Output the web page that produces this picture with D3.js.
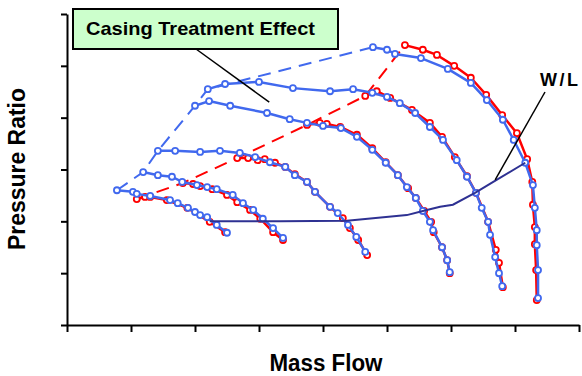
<!DOCTYPE html>
<html>
<head>
<meta charset="utf-8">
<script src="https://cdn.jsdelivr.net/npm/d3@7"></script>
<style>
  body { margin: 0; background: #fff; }
  svg { display: block; font-family: "Liberation Sans", Arial, sans-serif; }
</style>
</head>
<body>
<div id="chart"></div>
<script>
// Speed lines, [mass flow, pressure ratio] in axis units (x 0-8, y 0-6)
// baseline (red) and casing treatment (blue)
const redLines = [
  [[1.09,2.43],[1.22,2.47],[1.30,2.47],[1.56,2.41],[1.88,2.26],[2.23,1.99],[2.47,1.79]],
  [[1.81,2.74],[1.97,2.72],[2.08,2.68],[2.27,2.62],[2.50,2.51],[2.66,2.37],[2.86,2.22],[3.02,2.05],[3.22,1.79],[3.375,1.64]],
  [[2.66,3.22],[2.83,3.22],[2.98,3.18],[3.09,3.20],[3.25,3.13],[3.41,3.05],[3.56,2.91],[3.75,2.76],[3.875,2.57],[4.11,2.28],[4.31,2.06],[4.42,1.87],[4.55,1.64],[4.69,1.35]],
  [[3.75,3.86],[3.95,3.90],[4.06,3.88],[4.27,3.82],[4.53,3.67],[4.77,3.41],[4.98,3.14],[5.17,2.89],[5.33,2.64],[5.45,2.45],[5.58,2.20],[5.69,1.99],[5.73,1.79],[5.86,1.50],[5.94,1.25],[5.98,1.00]],
  [[4.66,4.42],[4.84,4.51],[5.05,4.38],[5.39,4.15],[5.67,3.90],[5.86,3.63],[6.06,3.24],[6.25,2.87],[6.39,2.55],[6.58,1.99],[6.70,1.45],[6.75,1.20],[6.81,0.73]],
  [[5.28,5.40],[5.56,5.31],[5.78,5.21],[6.05,5.00],[6.31,4.77],[6.55,4.44],[6.80,4.05],[7.03,3.70],[7.19,3.20],[7.27,2.76],[7.28,2.32],[7.31,1.89],[7.31,1.56],[7.33,1.06],[7.34,0.48]]
];

const blueLines = [
  [[0.78,2.60],[1.03,2.57],[1.09,2.53],[1.30,2.49],[1.61,2.41],[1.73,2.35],[1.89,2.26],[2.00,2.18],[2.08,2.12],[2.19,2.08],[2.34,1.93],[2.50,1.78]],
  [[1.19,2.95],[1.42,2.89],[1.64,2.86],[1.80,2.76],[2.03,2.70],[2.19,2.66],[2.34,2.62],[2.59,2.51],[2.75,2.35],[2.91,2.22],[3.06,2.05],[3.22,1.87],[3.375,1.68]],
  [[1.42,3.36],[1.69,3.36],[2.08,3.34],[2.39,3.36],[2.70,3.32],[2.94,3.24],[3.17,3.14],[3.41,3.05],[3.56,2.89],[3.75,2.76],[3.875,2.57],[4.11,2.28],[4.23,2.16],[4.39,1.93],[4.52,1.70],[4.66,1.41]],
  [[2.00,4.23],[2.22,4.32],[2.55,4.23],[3.125,4.09],[3.48,3.97],[3.75,3.90],[4.00,3.84],[4.28,3.80],[4.53,3.63],[4.77,3.38],[4.98,3.13],[5.17,2.89],[5.31,2.66],[5.45,2.45],[5.56,2.20],[5.67,1.99],[5.72,1.83],[5.86,1.50],[5.94,1.25],[5.98,1.02]],
  [[2.20,4.55],[2.47,4.65],[3.00,4.69],[3.53,4.57],[4.11,4.51],[4.47,4.55],[4.77,4.48],[5.00,4.40],[5.20,4.28],[5.44,4.09],[5.67,3.82],[5.875,3.57],[6.09,3.18],[6.25,2.86],[6.39,2.55],[6.48,2.26],[6.58,1.99],[6.61,1.74],[6.69,1.31],[6.75,1.00],[6.80,0.75]],
  [[4.78,5.36],[5.00,5.31],[5.125,5.23],[5.53,5.15],[5.95,4.94],[6.31,4.67],[6.56,4.34],[6.81,3.96],[6.98,3.57],[7.16,3.13],[7.28,2.70],[7.31,2.26],[7.34,1.83],[7.34,1.54],[7.36,1.06],[7.36,0.52]]
];

// working line
const workingLine = [[2.23,2.00],[3.33,2.00],[4.375,2.01],[5.31,2.12],[5.56,2.20],[5.83,2.28],[6.03,2.32],[6.375,2.55],[6.66,2.76],[7.16,3.13]];

const xTicks = d3.range(0, 9);
const yTicks = d3.range(0, 7);

const width = 582;
const height = 376;
const margin = { top: 14, right: 3, bottom: 51, left: 67 };

const RED = "#ff0000";
const BLUE = "#4169ee";
const NAVY = "#2e3192";

const svg = d3.select("#chart")
  .append("svg")
  .attr("width", width)
  .attr("height", height);

const x = d3.scaleLinear().domain([0, 8]).range([margin.left, width - margin.right]);
const y = d3.scaleLinear().domain([0, 6]).range([height - margin.bottom, margin.top]);

// Eixos sem rotulos
const xAxis = svg.append("g")
  .attr("transform", `translate(0,${height - margin.bottom})`)
  .call(d3.axisBottom(x).tickValues(xTicks).tickFormat("").tickSize(7).tickSizeOuter(0));
const yAxis = svg.append("g")
  .attr("transform", `translate(${margin.left},0)`)
  .call(d3.axisLeft(y).tickValues(yTicks).tickFormat("").tickSize(6).tickSizeOuter(0));
[xAxis, yAxis].forEach(a => {
  a.selectAll("path, line").attr("stroke", "#000").attr("stroke-width", 2);
});

const line = d3.line().x(d => x(d[0])).y(d => y(d[1]));

function drawSet(lines, color) {
  // surge line through the first point of each speed line
  svg.append("path")
    .datum(lines.map(l => l[0]))
    .attr("d", line)
    .attr("fill", "none")
    .attr("stroke", color)
    .attr("stroke-width", 2)
    .attr("stroke-dasharray", "13,8");

  svg.selectAll(null)
    .data(lines)
    .join("path")
    .attr("d", line)
    .attr("fill", "none")
    .attr("stroke", color)
    .attr("stroke-width", 2.5)
    .attr("stroke-linejoin", "round");

  svg.selectAll(null)
    .data(lines.flat())
    .join("circle")
    .attr("cx", d => x(d[0]))
    .attr("cy", d => y(d[1]))
    .attr("r", 3)
    .attr("fill", "#fff")
    .attr("stroke", color)
    .attr("stroke-width", 1.8);
}

drawSet(redLines, RED);
drawSet(blueLines, BLUE);

svg.append("path")
  .datum(workingLine)
  .attr("d", line)
  .attr("fill", "none")
  .attr("stroke", NAVY)
  .attr("stroke-width", 2);

// Anotacoes
svg.append("line")
  .attr("x1", 196).attr("y1", 49)
  .attr("x2", x(3.16)).attr("y2", y(4.30))
  .attr("stroke", "#000").attr("stroke-width", 1.5);

svg.append("rect")
  .attr("x", 73).attr("y", 9)
  .attr("width", 265).attr("height", 40)
  .attr("fill", "#ccffcc")
  .attr("stroke", "#000")
  .attr("stroke-width", 2);

svg.append("text")
  .attr("x", 86).attr("y", 35)
  .attr("font-size", 19)
  .attr("font-weight", "bold")
  .attr("textLength", 229)
  .attr("lengthAdjust", "spacingAndGlyphs")
  .text("Casing Treatment Effect");

svg.append("line")
  .attr("x1", 545).attr("y1", 92)
  .attr("x2", x(6.69)).attr("y2", y(2.80))
  .attr("stroke", "#000").attr("stroke-width", 1.5);

svg.append("text")
  .attr("x", 540).attr("y", 86)
  .attr("font-size", 18)
  .attr("font-weight", "bold")
  .attr("textLength", 38)
  .attr("lengthAdjust", "spacing")
  .text("W/L");

// Titulos dos eixos
svg.append("text")
  .attr("x", 326).attr("y", 371)
  .attr("text-anchor", "middle")
  .attr("font-size", 23)
  .attr("font-weight", "bold")
  .attr("textLength", 113)
  .attr("lengthAdjust", "spacingAndGlyphs")
  .text("Mass Flow");

svg.append("text")
  .attr("transform", "translate(25,169) rotate(-90)")
  .attr("text-anchor", "middle")
  .attr("font-size", 23)
  .attr("font-weight", "bold")
  .attr("textLength", 162)
  .attr("lengthAdjust", "spacingAndGlyphs")
  .text("Pressure Ratio");
</script>
</body>
</html>
